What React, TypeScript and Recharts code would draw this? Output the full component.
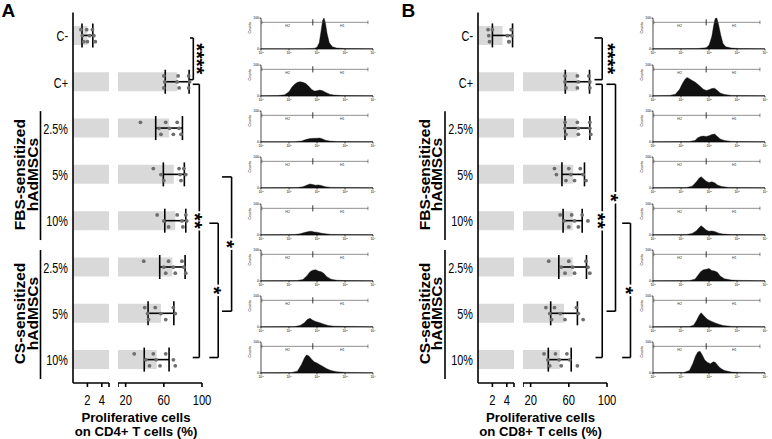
import React from 'react';
import {
  ComposedChart,
  AreaChart,
  Area,
  Bar,
  ErrorBar,
  Scatter,
  XAxis,
  YAxis,
  ReferenceLine,
  ReferenceDot,
} from 'recharts';

const FONT = 'Arial, "Liberation Sans", Helvetica, sans-serif';

// rows from top to bottom
const rowIds = ['neg', 'pos', 'fbs25', 'fbs5', 'fbs10', 'cs25', 'cs5', 'cs10'];
const rowLabels = ['C-', 'C+', '2.5%', '5%', '10%', '2.5%', '5%', '10%'];
const groups = [
  { name: 'FBS-sensitized', first: 2, last: 4 },
  { name: 'CS-sensitized', first: 5, last: 7 },
];

// A: proliferative cells on CD4+ T cells (%)
const cd4Mean = [2.0, 74, 65.5, 70.5, 72, 69, 57, 52.5];
const cd4Sd = [0.75, 12.5, 14, 11, 11, 13.3, 13.5, 13];
const cd4Points = [
  [1.1, 1.3, 1.5, 1.9, 2.3, 2.0, 2.7, 2.9, 3.1],
  [60, 61, 60, 75, 74, 76, 86, 87, 86],
  [35.5, 55, 57, 62, 66, 70, 74, 76, 78],
  [49, 57, 60, 76, 77, 78, 81, 83],
  [53, 60, 65, 74, 79, 80, 83, 84],
  [39, 60, 62, 65, 70, 72, 79, 81, 83],
  [40, 43, 44, 51, 57, 62, 70, 72],
  [29, 41, 45, 49, 52, 56, 62, 70, 72],
];

// B: proliferative cells on CD8+ T cells (%)
const cd8Mean = [3.4, 69, 69, 64.6, 64, 64, 55, 50.5];
const cd8Sd = [1.4, 12.7, 13, 11.8, 10, 14.5, 14, 12];
const cd8Points = [
  [1.4, 1.5, 1.6, 2.0, 4.1, 4.3, 4.6, 4.7, 4.3],
  [56, 56, 57, 69, 70, 69, 81, 82, 82],
  [56, 56, 57, 69, 70, 70, 82, 82, 83],
  [45, 47, 57, 60, 62, 66, 72, 75, 78],
  [51, 55, 60, 63, 66, 70, 74, 80],
  [39, 52, 56, 60, 64, 66, 78, 80, 82],
  [36, 40, 42, 45, 51, 56, 68, 70, 75],
  [34, 38, 40, 46, 50, 52, 58, 61, 69],
];

// significance: rows compared, bracket position and tick start (axis units)
const cd4Stats = [
  { from: 0, to: 1, x: 90.9, tick: 87.4, stars: '****', shift: 8 },
  { from: 1, to: 7, x: 97.2, tick: 90.3, stars: '**', shift: 0 },
  { from: 4, to: 7, x: 117, tick: 107.7, stars: '*', shift: 0 },
  { from: 3, to: 6, x: 131, tick: 121, stars: '*', shift: 0 },
];
const cd8Stats = [
  { from: 0, to: 1, x: 95, tick: 86.9, stars: '****', shift: 10 },
  { from: 1, to: 7, x: 95, tick: 88, stars: '**', shift: 0 },
  { from: 1, to: 6, x: 108.9, tick: 99.5, stars: '*', shift: 0 },
  { from: 4, to: 7, x: 124.6, tick: 115.9, stars: '*', shift: 0 },
];

// CFSE histograms: [log10 fluorescence, counts]
const cd4Hist = [
  [[0, 1], [1.5, 1], [1.9, 2], [2.0, 6], [2.08, 20], [2.14, 55], [2.2, 92], [2.25, 100], [2.3, 85], [2.36, 50], [2.44, 20], [2.55, 7], [2.7, 3], [3.0, 1.5], [4, 1]],
  [[0, 1], [0.6, 1.5], [0.85, 4], [1.0, 14], [1.1, 28], [1.2, 38], [1.3, 44], [1.4, 46], [1.5, 44], [1.6, 40], [1.7, 32], [1.8, 22], [1.9, 16], [2.0, 17], [2.1, 19], [2.2, 17], [2.3, 12], [2.45, 6], [2.6, 3], [2.9, 1.5], [4, 1]],
  [[0, 1], [1.2, 1], [1.45, 3], [1.6, 8], [1.75, 11], [1.9, 12], [2.0, 12], [2.1, 13], [2.2, 10], [2.3, 6], [2.45, 3], [2.7, 1.5], [4, 1]],
  [[0, 1], [1.3, 1.5], [1.5, 4], [1.65, 10], [1.75, 13], [1.85, 11], [1.95, 9], [2.05, 10], [2.15, 8], [2.3, 4], [2.5, 2], [4, 1]],
  [[0, 1], [1.2, 1.5], [1.4, 4], [1.55, 8], [1.7, 11], [1.8, 12], [1.9, 10], [2.0, 9], [2.15, 6], [2.3, 4], [2.5, 2], [4, 1]],
  [[0, 1], [1.3, 1.5], [1.5, 5], [1.65, 18], [1.75, 30], [1.85, 35], [1.95, 36], [2.05, 32], [2.15, 30], [2.25, 24], [2.35, 14], [2.5, 6], [2.7, 2.5], [3, 1.5], [4, 1]],
  [[0, 1], [1.2, 1.5], [1.4, 5], [1.55, 14], [1.65, 24], [1.75, 28], [1.85, 22], [1.95, 18], [2.1, 14], [2.25, 9], [2.4, 5], [2.6, 2.5], [4, 1]],
  [[0, 1], [1.1, 1.5], [1.3, 6], [1.45, 28], [1.55, 48], [1.62, 58], [1.7, 56], [1.8, 45], [1.9, 36], [2.0, 32], [2.1, 27], [2.2, 22], [2.35, 14], [2.5, 8], [2.7, 4], [3, 2], [4, 1]],
];
const cd8Hist = [
  [[0, 1], [1.6, 1.5], [1.9, 4], [2.0, 12], [2.1, 40], [2.17, 78], [2.22, 98], [2.28, 100], [2.34, 80], [2.42, 45], [2.5, 18], [2.6, 7], [2.8, 3], [3.1, 1.5], [4, 1]],
  [[0, 1], [0.6, 2], [0.8, 6], [0.95, 22], [1.05, 40], [1.15, 55], [1.22, 60], [1.3, 56], [1.4, 50], [1.5, 45], [1.6, 38], [1.7, 30], [1.8, 22], [1.9, 18], [2.0, 20], [2.1, 24], [2.2, 25], [2.3, 18], [2.4, 10], [2.55, 5], [2.8, 2], [4, 1]],
  [[0, 1], [1.3, 1.5], [1.5, 5], [1.6, 14], [1.7, 18], [1.8, 19], [1.9, 18], [2.0, 20], [2.1, 24], [2.2, 26], [2.3, 18], [2.4, 10], [2.55, 5], [2.8, 2], [4, 1]],
  [[0, 1], [1.2, 1.5], [1.4, 6], [1.55, 20], [1.65, 32], [1.72, 36], [1.8, 30], [1.9, 22], [2.0, 18], [2.1, 20], [2.2, 17], [2.3, 10], [2.45, 5], [2.7, 2], [4, 1]],
  [[0, 1], [1.2, 1.5], [1.4, 5], [1.55, 14], [1.65, 24], [1.72, 30], [1.8, 24], [1.9, 16], [2.0, 12], [2.1, 13], [2.2, 11], [2.35, 6], [2.5, 3], [2.8, 1.5], [4, 1]],
  [[0, 1], [1.3, 1.5], [1.5, 6], [1.6, 18], [1.7, 30], [1.8, 36], [1.9, 38], [2.0, 40], [2.1, 34], [2.2, 32], [2.3, 28], [2.4, 16], [2.55, 7], [2.8, 3], [3.1, 2], [4, 1]],
  [[0, 1], [1.3, 1.5], [1.45, 6], [1.55, 20], [1.65, 38], [1.72, 46], [1.8, 38], [1.9, 28], [2.0, 22], [2.1, 18], [2.2, 14], [2.35, 9], [2.5, 5], [2.8, 2], [4, 1]],
  [[0, 1], [1.1, 2], [1.3, 8], [1.42, 30], [1.52, 55], [1.6, 68], [1.68, 70], [1.76, 58], [1.85, 42], [1.95, 34], [2.05, 30], [2.15, 36], [2.22, 35], [2.3, 26], [2.4, 16], [2.55, 8], [2.8, 3], [3.1, 2], [4, 1]],
];

const CH = 439;
const TOP = 12.5;
const AXIS_H = 56;
const ROW_H = (CH - TOP - AXIS_H) / rowIds.length;
const LANES = [-6, 0, 6];
const LINE = 1.6;

const CondTick = (props: any) => {
  const { x, y, text, anchor, dy, sx, size } = props;
  return (
    <text
      transform={`translate(${x},${y}) scale(${sx},1)`}
      textAnchor={anchor}
      dy={dy}
      fontSize={size}
      fill="#000"
    >
      {text}
    </text>
  );
};

const Dot = (p: any) => {
  if (p.cx == null || p.cy == null) return null;
  const k = p.payload ? p.payload.k : 0;
  return <circle cx={p.cx} cy={p.cy + LANES[k % 3]} r={1.9} fill="#6e6e6e" />;
};

const Stars = ({ viewBox, text, shift }: any) => {
  if (!viewBox) return null;
  const cx = viewBox.x + shift;
  const cy = viewBox.y + viewBox.height / 2;
  const len = text.length * 7.6 + 4;
  return (
    <g>
      {shift === 0 && <rect x={cx - 5} y={cy - len / 2} width={10} height={len} fill="#fff" />}
      <text
        x={cx}
        y={cy}
        dy="0.56em"
        transform={`rotate(90 ${cx} ${cy})`}
        textAnchor="middle"
        fontSize={20}
        fontWeight="bold"
        fill="#000"
      >
        {text}
      </text>
    </g>
  );
};

const LogTick = ({ x, y, payload }: any) => (
  <text x={x} y={y + 3.2} textAnchor="middle" fontSize={3.4} fill="#000">
    10<tspan dy={-1.3} fontSize={2.4}>{payload.value}</tspan>
  </text>
);

const BarPanel = ({ left, means, sds, points, stats }: any) => {
  const bars = rowIds.map((id, i) => ({ id, v: means[i], sd: sds[i] }));
  const dots = points.flatMap((vals: number[], row: number) =>
    vals.map((v, k) => ({ y: row + 0.5, v, k }))
  );
  const xTick = (hide: number) => (p: any) => (
    <CondTick {...p} text={p.payload.value === hide ? '' : p.payload.value} anchor="middle"
      dy="0.72em" sx={0.8} size={14} />
  );
  const yTick = (p: any) => (
    <CondTick {...p} text={rowLabels[p.index]} anchor="end" dy="0.36em" sx={0.7} size={15.5} />
  );
  return (
    <>
      <div style={{ position: 'absolute', left, top: 0 }}>
        <ComposedChart
          layout="vertical"
          width={112}
          height={CH}
          data={bars}
          margin={{ top: TOP, right: 3, bottom: 0, left: 0 }}
          barCategoryGap="29%"
        >
          <XAxis type="number" domain={[0, 5]} ticks={[2, 4, 5]} interval={0} allowDataOverflow
            height={AXIS_H} stroke="#000" strokeWidth={LINE} tickSize={4} tickMargin={8} tick={xTick(5)} />
          <YAxis type="category" dataKey="id" width={73} stroke="#000" strokeWidth={LINE}
            tickLine={false} tickSize={0} tickMargin={5} interval={0} tick={yTick} />
          <YAxis yAxisId="idx" type="number" dataKey="y" domain={[0, 8]} hide allowDataOverflow />
          <Bar dataKey="v" fill="#d9d9d9" isAnimationActive={false}>
            <ErrorBar dataKey="sd" direction="x" width={12} stroke="#000" strokeWidth={LINE} />
          </Bar>
          <Scatter yAxisId="idx" data={dots} dataKey="v" shape={Dot} isAnimationActive={false} />
        </ComposedChart>
      </div>
      <div style={{ position: 'absolute', left: left + 118, top: 0 }}>
        <ComposedChart
          layout="vertical"
          width={134}
          height={CH}
          data={bars}
          margin={{ top: TOP, right: 50, bottom: 0, left: 0 }}
          barCategoryGap="29%"
        >
          <XAxis type="number" domain={[12, 100]} ticks={[12, 20, 60, 100]} interval={0} allowDataOverflow
            height={AXIS_H} stroke="#000" strokeWidth={LINE} tickSize={4} tickMargin={8} tick={xTick(12)} />
          <YAxis type="category" dataKey="id" hide />
          <YAxis yAxisId="idx" type="number" dataKey="y" domain={[0, 8]} hide allowDataOverflow />
          <Bar dataKey="v" fill="#d9d9d9" isAnimationActive={false}>
            <ErrorBar dataKey="sd" direction="x" width={12} stroke="#000" strokeWidth={LINE} />
          </Bar>
          <Scatter yAxisId="idx" data={dots} dataKey="v" shape={Dot} isAnimationActive={false} />
          {stats.flatMap((s: any, i: number) => {
            const y1 = s.from + 0.55;
            const y2 = s.to + 0.45;
            return [
              <ReferenceLine key={`t${i}`} yAxisId="idx" ifOverflow="visible" stroke="#000" strokeWidth={LINE}
                segment={[{ x: s.tick, y: y1 }, { x: s.x, y: y1 }]} />,
              <ReferenceLine key={`v${i}`} yAxisId="idx" ifOverflow="visible" stroke="#000" strokeWidth={LINE}
                segment={[{ x: s.x, y: y1 }, { x: s.x, y: y2 }]}
                label={(p: any) => <Stars viewBox={p.viewBox} text={s.stars} shift={s.shift} />} />,
              <ReferenceLine key={`b${i}`} yAxisId="idx" ifOverflow="visible" stroke="#000" strokeWidth={LINE}
                segment={[{ x: s.tick, y: y2 }, { x: s.x, y: y2 }]} />,
            ];
          })}
        </ComposedChart>
      </div>
    </>
  );
};

const Histo = ({ pts, left, top, gate }: any) => {
  const data = pts.map(([x, y]: number[]) => ({ x, y }));
  return (
    <div style={{ position: 'absolute', left, top }}>
      <AreaChart width={129} height={43} data={data} margin={{ top: 2, right: 3, bottom: 0, left: 0 }}>
        <XAxis dataKey="x" type="number" domain={[0, 4]} ticks={[0, 1, 2, 3, 4]} interval={0} height={10}
          stroke="#000" strokeWidth={0.7} tickSize={1.5} tickMargin={0.5} tick={LogTick} />
        <XAxis xAxisId="top" orientation="top" type="number" domain={[0, 4]} height={0}
          tick={false} tickLine={false} stroke="#444" strokeWidth={0.6} />
        <YAxis type="number" domain={[0, 100]} ticks={[0, 100]} interval={0} width={14}
          stroke="#000" strokeWidth={0.7} tickSize={1.5} tickMargin={0.5}
          tick={{ fontSize: 3.4, fill: '#000' }}
          label={{ value: 'Counts', angle: -90, position: 'insideLeft', offset: 3, fontSize: 3.6, fill: '#000' }} />
        <YAxis yAxisId="right" orientation="right" type="number" domain={[0, 100]} width={0}
          tick={false} tickLine={false} stroke="#444" strokeWidth={0.6} />
        <Area dataKey="y" type="linear" stroke="#111" strokeWidth={0.4} fill="#111" fillOpacity={1}
          isAnimationActive={false} />
        <ReferenceLine ifOverflow="visible" stroke="#444" strokeWidth={0.6}
          segment={[{ x: 0.03, y: 86 }, { x: 3.82, y: 86 }]} />
        <ReferenceLine ifOverflow="visible" stroke="#444" strokeWidth={0.6}
          segment={[{ x: 0.03, y: 80 }, { x: 0.03, y: 92 }]} />
        <ReferenceLine ifOverflow="visible" stroke="#222" strokeWidth={0.9}
          segment={[{ x: gate, y: 76 }, { x: gate, y: 96 }]} />
        <ReferenceLine ifOverflow="visible" stroke="#444" strokeWidth={0.6}
          segment={[{ x: 3.82, y: 80 }, { x: 3.82, y: 92 }]} />
        <ReferenceDot x={0.95} y={76} r={0.01} fill="none" stroke="none"
          label={{ value: 'H2', position: 'center', fontSize: 3.6, fill: '#333' }} />
        <ReferenceDot x={2.9} y={76} r={0.01} fill="none" stroke="none"
          label={{ value: 'H1', position: 'center', fontSize: 3.6, fill: '#333' }} />
      </AreaChart>
    </div>
  );
};

const rowCenter = (i: number) => TOP + (i + 0.5) * ROW_H;

const Decor = ({ dx, letter, letterX, cells }: any) => (
  <g>
    <text x={letterX} y={16.7} fontSize={19} fontWeight="bold" fill="#000">{letter}</text>
    {groups.map((g) => {
      const cy = (rowCenter(g.first) + rowCenter(g.last)) / 2;
      return (
        <g key={g.name}>
          <text transform={`translate(${dx + 25} ${cy}) rotate(-90)`} textAnchor="middle"
            fontSize={15.5} fontWeight="bold" fill="#000">{g.name}</text>
          <text transform={`translate(${dx + 37.5} ${cy}) rotate(-90)`} textAnchor="middle"
            fontSize={15.5} fontWeight="bold" fill="#000">hAdMSCs</text>
          <line x1={dx + 40.5} x2={dx + 40.5}
            y1={TOP + g.first * ROW_H + 6} y2={TOP + (g.last + 1) * ROW_H - 4}
            stroke="#000" strokeWidth={LINE} />
        </g>
      );
    })}
    <text x={dx + 136} y={421.5} textAnchor="middle" fontSize={13.2} fontWeight="bold" fill="#000">
      Proliferative cells
    </text>
    <text x={dx + 136} y={436.3} textAnchor="middle" fontSize={13.2} fontWeight="bold" fill="#000">
      {`on ${cells} T cells (%)`}
    </text>
  </g>
);

export default function App() {
  return (
    <div style={{ position: 'absolute', left: 0, top: 0, width: 772, height: 439, background: '#fff', fontFamily: FONT }}>
      <svg width={772} height={439} style={{ position: 'absolute', left: 0, top: 0 }}>
        <Decor dx={0} letter="A" letterX={1.5} cells="CD4+" />
        <Decor dx={404.5} letter="B" letterX={401.5} cells="CD8+" />
      </svg>
      <BarPanel left={0} means={cd4Mean} sds={cd4Sd} points={cd4Points} stats={cd4Stats} />
      <BarPanel left={404.5} means={cd8Mean} sds={cd8Sd} points={cd8Points} stats={cd8Stats} />
      {cd4Hist.map((pts, i) => (
        <Histo key={`a${i}`} pts={pts} left={247} top={rowCenter(i) - 19.4} gate={1.85} />
      ))}
      {cd8Hist.map((pts, i) => (
        <Histo key={`b${i}`} pts={pts} left={639.3} top={rowCenter(i) - 19.4} gate={1.9} />
      ))}
    </div>
  );
}
